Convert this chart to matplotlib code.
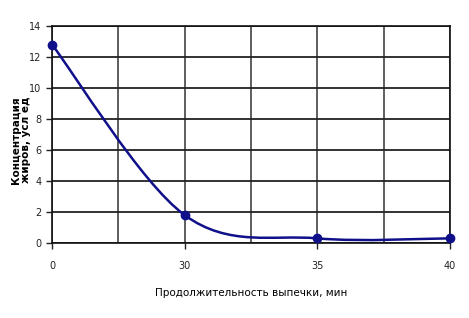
import matplotlib
matplotlib.use('Agg')
import matplotlib.pyplot as plt
from matplotlib.path import Path
from matplotlib.patches import PathPatch
import numpy as np

# data
x_labels = ['0', '30', '35', '40']
conc = [12.8, 1.8, 0.3, 0.3]
y_ticks = [0, 2, 4, 6, 8, 10, 12, 14]

xs = np.arange(len(conc))
ys = np.array(conc)

fig = plt.figure(figsize=(4.69, 3.18), dpi=100)
ax = fig.add_axes([52/469, 75/318, 398/469, 217/318])

# smooth line like Excel (Bezier through points)
pts = list(zip(xs, ys))
verts = [pts[0]]
codes = [Path.MOVETO]
n = len(pts)
for i in range(n - 1):
    p0 = np.array(pts[max(i - 1, 0)])
    p1 = np.array(pts[i])
    p2 = np.array(pts[i + 1])
    p3 = np.array(pts[min(i + 2, n - 1)])
    c1 = p1 + (p2 - p0) / 6
    c2 = p2 - (p3 - p1) / 6
    verts += [tuple(c1), tuple(c2), tuple(p2)]
    codes += [Path.CURVE4] * 3
ax.add_patch(PathPatch(Path(verts, codes), fill=False, edgecolor='#10108a', lw=1.8,
                       transform=ax.transData, zorder=3, clip_on=False))
ax.plot(xs, ys, 'o', color='#10108a', ms=6, zorder=4, clip_on=False)

ax.set_xlim(0, 3)
ax.set_ylim(0, 14)
ax.set_xticks(xs)
ax.set_xticklabels(x_labels)
ax.set_xticks(np.arange(0, 3.01, 0.5), minor=True)
ax.set_yticks(y_ticks)
ax.grid(True, which='major', axis='y', color='#222222', lw=1.3)
ax.grid(True, which='both', axis='x', color='#333333', lw=1.1)
ax.tick_params(axis='both', which='major', labelsize=7, length=4, width=1, direction='out', colors='#222222')
ax.tick_params(axis='x', which='minor', length=0)
ax.tick_params(axis='x', pad=9)
for s in ax.spines.values():
    s.set_color('#111111')
    s.set_linewidth(1.2)

ax.set_xlabel('Продолжительность выпечки, мин', fontsize=7.5, labelpad=12)
fig.text(21/469, 1 - 140/318, 'Концентрация\nжиров, усл ед', rotation=90,
         ha='center', va='center', fontsize=7.5, fontweight='bold', linespacing=1.0)

fig.savefig('out.png', dpi=100)
